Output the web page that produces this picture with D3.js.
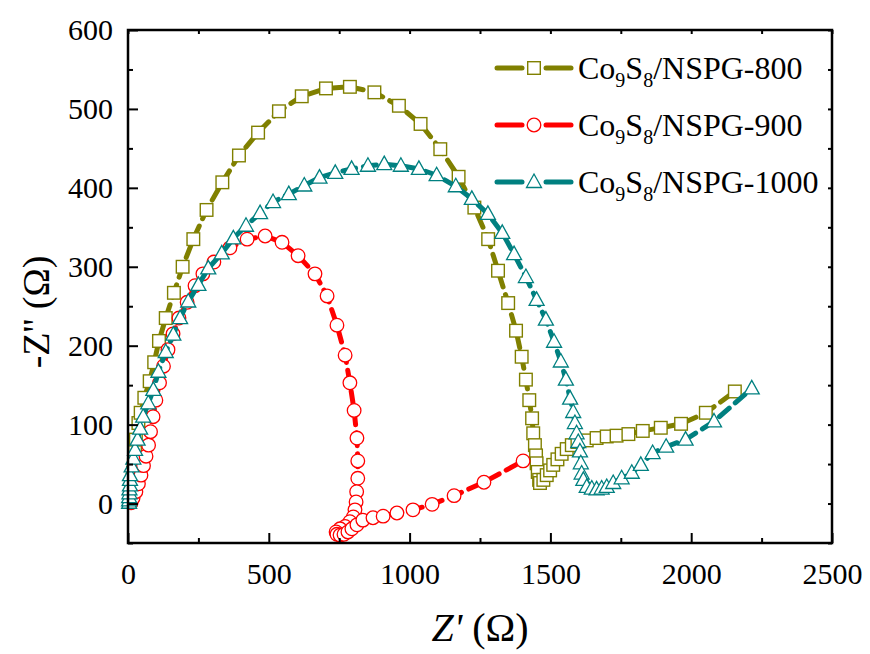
<!DOCTYPE html>
<html>
<head>
<meta charset="utf-8">
<script src="https://cdn.jsdelivr.net/npm/d3@7"></script>
</head>
<body style="margin:0; background:#fff">
<svg id="chart" width="870" height="654"></svg>
<script>
// Z' / -Z'' values (ohm)
const s800X = [7, 9, 11, 12, 14, 16, 18, 21, 25, 25, 28, 37, 45, 58, 77, 93, 110, 134, 163, 194, 232, 279, 335, 394, 462, 536, 617, 703, 788, 875, 962, 1039, 1109, 1174, 1230, 1279, 1314, 1350, 1378, 1398, 1413, 1425, 1435, 1439, 1445, 1449, 1451, 1455, 1460, 1463, 1475, 1487, 1499, 1510, 1525, 1540, 1558, 1576, 1596, 1629, 1664, 1700, 1735, 1777, 1828, 1892, 1964, 2052, 2155];
const s800Y = [2, 6, 11, 16, 22, 30, 39, 49, 60, 70, 81, 102, 115, 134, 155, 179, 206, 235, 267, 300, 335, 372, 407, 441, 470, 497, 516, 526, 528, 521, 504, 481, 449, 414, 375, 335, 295, 254, 219, 186, 157, 131, 108, 89, 74, 61, 51, 40, 30, 26, 30, 36, 42, 49, 56, 63, 69, 74, 78, 80, 83, 85, 86, 88, 92, 96, 101, 115, 142];

const s900X = [11, 18, 28, 37, 46, 55, 64, 73, 80, 89, 99, 112, 126, 142, 160, 181, 210, 238, 266, 305, 362, 423, 487, 547, 604, 664, 707, 742, 771, 788, 803, 813, 816, 816, 812, 810, 806, 800, 788, 771, 753, 739, 742, 753, 767, 781, 795, 813, 834, 870, 906, 955, 1012, 1080, 1158, 1264, 1403];
const s900Y = [1, 7, 15, 25, 36, 48, 60, 74, 91, 110, 131, 153, 174, 195, 215, 235, 255, 276, 291, 306, 324, 335, 339, 331, 314, 291, 263, 226, 188, 153, 118, 83, 54, 32, 15, 2, -8, -17, -23, -29, -32, -36, -39, -40, -39, -36, -32, -27, -21, -18, -16, -12, -8, -1, 10, 27, 54];

const s1000X = [4, 4, 4, 5, 5, 7, 7, 7, 13, 19, 25, 34, 43, 54, 72, 90, 108, 134, 161, 185, 214, 250, 285, 333, 374, 419, 469, 515, 571, 626, 680, 736, 794, 852, 910, 969, 1033, 1096, 1164, 1221, 1278, 1329, 1371, 1413, 1451, 1484, 1513, 1537, 1555, 1570, 1581, 1587, 1593, 1599, 1605, 1608, 1611, 1617, 1629, 1647, 1664, 1682, 1700, 1723, 1753, 1789, 1821, 1863, 1911, 1980, 2081, 2215];
const s1000Y = [1, 4, 8, 13, 18, 23, 30, 36, 47, 57, 68, 81, 95, 110, 127, 144, 167, 192, 214, 235, 256, 277, 298, 317, 336, 352, 368, 382, 392, 403, 413, 419, 424, 428, 430, 428, 424, 416, 402, 386, 367, 343, 316, 287, 258, 233, 205, 180, 157, 133, 116, 102, 89, 78, 66, 51, 38, 30, 21, 19, 18, 19, 21, 26, 32, 39, 49, 64, 72, 81, 104, 146];

const seriesNames = ["NSPG-800", "NSPG-900", "NSPG-1000"];
const seriesColors = ["#808000", "#ff0000", "#008080"];
const seriesSymbols = ["square", "circle", "triangle"];

const xTicks = [0, 500, 1000, 1500, 2000, 2500];
const yTicks = [0, 100, 200, 300, 400, 500, 600];

const FONT = "'Liberation Serif', serif";

const svg = d3.select("#chart");
const plotL = 128, plotR = 832, plotT = 30, plotB = 543;

const x = d3.scaleLinear().domain([0, 2500]).range([plotL, plotR]);
const y = d3.scaleLinear().domain([-50, 600]).range([plotB, plotT]);

const series = [
  d3.zip(s800X, s800Y),
  d3.zip(s900X, s900Y),
  d3.zip(s1000X, s1000Y)
];

// draw a marker shape at (cx, cy)
function drawSymbol(g, kind, cx, cy, color) {
  if (kind === "square") {
    g.append("rect").attr("x", cx - 6.3).attr("y", cy - 6.3)
      .attr("width", 12.6).attr("height", 12.6)
      .attr("fill", "#fff").attr("stroke", color).attr("stroke-width", 1.4);
  } else if (kind === "circle") {
    g.append("circle").attr("cx", cx).attr("cy", cy).attr("r", 6.8)
      .attr("fill", "#fff").attr("stroke", color).attr("stroke-width", 1.3);
  } else {
    g.append("path")
      .attr("d", `M${cx},${cy - 8}L${cx + 7.5},${cy + 5.5}L${cx - 7.5},${cy + 5.5}Z`)
      .attr("fill", "#fff").attr("stroke", color).attr("stroke-width", 1.3);
  }
}

const line = d3.line().x(d => x(d[0])).y(d => y(d[1]));

series.forEach((data, i) => {
  const g = svg.append("g");
  g.append("path")
    .datum(data)
    .attr("d", line)
    .attr("fill", "none")
    .attr("stroke", seriesColors[i])
    .attr("stroke-width", 5)
    .attr("stroke-linecap", "round")
    .attr("stroke-dasharray", "13,8");
  data.forEach(d => drawSymbol(g, seriesSymbols[i], x(d[0]), y(d[1]), seriesColors[i]));
});

// axes: ticks point inward on all four sides
const xMinor = d3.range(250, 2500, 500);
const yMinor = d3.range(-50, 600, 100);

const axisStyle = g => {
  g.select(".domain").remove();
  g.selectAll("line").attr("stroke", "#000").attr("stroke-width", 2);
  g.selectAll("text").attr("font-size", 30).attr("fill", "#000").style("font-family", FONT);
};

svg.append("g").attr("transform", `translate(0,${plotB})`)
  .call(d3.axisBottom(x).tickValues(xTicks).tickSize(-10).tickPadding(20).tickFormat(d3.format("d")))
  .call(axisStyle);
svg.append("g").attr("transform", `translate(0,${plotB})`)
  .call(d3.axisBottom(x).tickValues(xMinor).tickSize(-5).tickFormat(""))
  .call(axisStyle);

svg.append("g").attr("transform", `translate(${plotL},0)`)
  .call(d3.axisLeft(y).tickValues(yTicks).tickSize(-10).tickPadding(15).tickFormat(d3.format("d")))
  .call(axisStyle);
svg.append("g").attr("transform", `translate(${plotL},0)`)
  .call(d3.axisLeft(y).tickValues(yMinor).tickSize(-5).tickFormat(""))
  .call(axisStyle);

// mirrored ticks on top and right
svg.append("g").attr("transform", `translate(0,${plotT})`)
  .call(d3.axisTop(x).tickValues(xTicks.concat(xMinor)).tickSize(-4).tickFormat(""))
  .call(axisStyle);
svg.append("g").attr("transform", `translate(${plotR},0)`)
  .call(d3.axisRight(y).tickValues(yTicks.concat(yMinor)).tickSize(-4).tickFormat(""))
  .call(axisStyle);

svg.append("rect")
  .attr("x", plotL).attr("y", plotT)
  .attr("width", plotR - plotL).attr("height", plotB - plotT)
  .attr("fill", "none").attr("stroke", "#000").attr("stroke-width", 2.5);

// axis titles
const xt = svg.append("text")
  .attr("x", (plotL + plotR) / 2).attr("y", 641)
  .attr("text-anchor", "middle").attr("font-size", 40).style("font-family", FONT);
xt.append("tspan").attr("font-style", "italic").text("Z'");
xt.append("tspan").text(" (\u03A9)");

const yt = svg.append("text")
  .attr("transform", "translate(49,312) rotate(-90)")
  .attr("text-anchor", "middle").attr("font-size", 38).style("font-family", FONT);
yt.append("tspan").text("-Z'' (\u03A9)");

// legend
const legend = svg.append("g");
seriesNames.forEach((name, i) => {
  const ly = 68 + i * 57;
  const c = seriesColors[i];
  legend.append("line").attr("x1", 497).attr("x2", 522).attr("y1", ly).attr("y2", ly)
    .attr("stroke", c).attr("stroke-width", 5).attr("stroke-linecap", "round");
  legend.append("line").attr("x1", 546).attr("x2", 571).attr("y1", ly).attr("y2", ly)
    .attr("stroke", c).attr("stroke-width", 5).attr("stroke-linecap", "round");
  drawSymbol(legend, seriesSymbols[i], 534, ly, c);
  const t = legend.append("text").attr("x", 578).attr("y", ly + 11)
    .attr("font-size", 32).style("font-family", FONT);
  t.append("tspan").text("Co");
  t.append("tspan").attr("font-size", 20).attr("dy", 8).text("9");
  t.append("tspan").attr("dy", -8).text("S");
  t.append("tspan").attr("font-size", 20).attr("dy", 8).text("8");
  t.append("tspan").attr("dy", -8).text("/" + name);
});
</script>
</body>
</html>
